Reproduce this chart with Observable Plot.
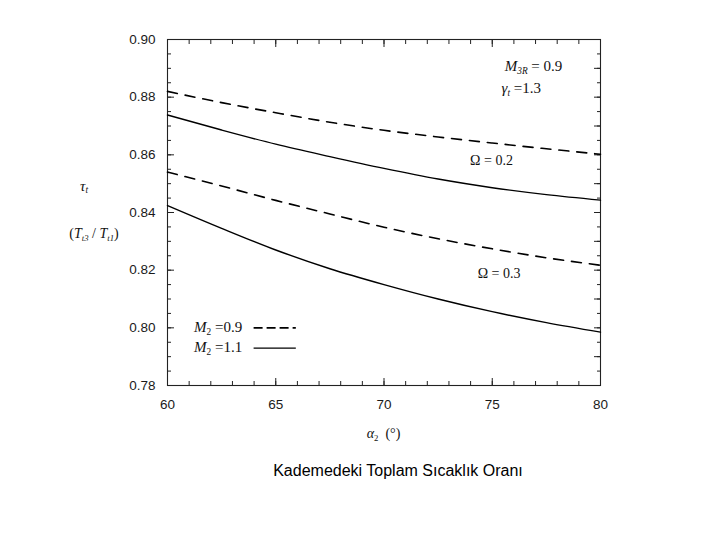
<!DOCTYPE html>
<html>
<head>
<meta charset="utf-8">
<script src="https://cdn.jsdelivr.net/npm/d3@7"></script>
<script src="https://cdn.jsdelivr.net/npm/@observablehq/plot@0.6"></script>
<style>
  html, body { margin: 0; padding: 0; background: #fff; }
  #chart svg { display: block; }
  #caption { width: 720px; box-sizing: border-box; padding-left: 76px; text-align: center;
             font-family: "Liberation Sans", Arial, sans-serif; font-size: 16px; color: #000;
             margin-top: 11px; line-height: 20px; }
</style>
</head>
<body>
<div id="chart"></div>
<div id="caption">Kademedeki Toplam Sıcaklık Oranı</div>
<script>
// ---- data ----
const alpha = [60, 62.5, 65, 67.5, 70, 72.5, 75, 77.5, 80];
const omega02_M09 = [0.8820, 0.8781, 0.8746, 0.8713, 0.8685, 0.8662, 0.8641, 0.8621, 0.8602];
const omega02_M11 = [0.8738, 0.8686, 0.8637, 0.8594, 0.8553, 0.8516, 0.8486, 0.8462, 0.8443];
const omega03_M09 = [0.8540, 0.8492, 0.8442, 0.8395, 0.8349, 0.8309, 0.8274, 0.8243, 0.8217];
const omega03_M11 = [0.8424, 0.8345, 0.8270, 0.8205, 0.8150, 0.8100, 0.8056, 0.8018, 0.7985];

const xTickLabels = [60, 65, 70, 75, 80];
const yTickLabels = [0.78, 0.80, 0.82, 0.84, 0.86, 0.88, 0.90];
const xMinor = d3.range(60, 80.001, 1);
const yMinor = d3.range(0, 25).map(i => +(0.78 + i * 0.005).toFixed(3));
const yMid = d3.range(0, 13).map(i => +(0.78 + i * 0.01).toFixed(2));

const series = [
  {omega: 0.2, M2: 0.9, values: omega02_M09},
  {omega: 0.2, M2: 1.1, values: omega02_M11},
  {omega: 0.3, M2: 0.9, values: omega03_M09},
  {omega: 0.3, M2: 1.1, values: omega03_M11}
];
const rows = series.flatMap(s => alpha.map((a, i) => ({alpha: a, tau: s.values[i], omega: s.omega, M2: s.M2})));

const tickFont = {fontFamily: "'Liberation Sans', Arial, sans-serif", fontSize: 13.5, fill: "#1a1a1a"};
const none = () => "";

const lineMarks = series.map(s => Plot.line(rows.filter(r => r.omega === s.omega && r.M2 === s.M2), {
  x: "alpha", y: "tau", curve: "monotone-x", stroke: "#000",
  strokeWidth: s.M2 === 0.9 ? 1.6 : 1.4,
  strokeDasharray: s.M2 === 0.9 ? "10,8" : null
}));

const plot = Plot.plot({
  width: 720, height: 450,
  marginLeft: 167, marginRight: 120, marginTop: 39, marginBottom: 65,
  x: {domain: [60, 80]},
  y: {domain: [0.78, 0.90]},
  style: {background: "#fff"},
  marks: [
    Plot.frame({stroke: "#222", strokeWidth: 1.1}),
    // bottom axis
    Plot.axisX({anchor: "bottom", ticks: xTickLabels, tickSize: -7, tickPadding: 21, tickFormat: d => String(d), ...tickFont, stroke: "#222", label: null}),
    Plot.axisX({anchor: "bottom", ticks: xMinor, tickSize: -4, tickFormat: none, stroke: "#222", label: null}),
    // top axis
    Plot.axisX({anchor: "top", ticks: xTickLabels, tickSize: -7, tickFormat: none, stroke: "#222", label: null}),
    Plot.axisX({anchor: "top", ticks: xMinor, tickSize: -4, tickFormat: none, stroke: "#222", label: null}),
    // left axis
    Plot.axisY({anchor: "left", ticks: yTickLabels, tickSize: -7, tickPadding: 19, tickFormat: d => d.toFixed(2), ...tickFont, stroke: "#222", label: null}),
    Plot.axisY({anchor: "left", ticks: yMinor, tickSize: -4, tickFormat: none, stroke: "#222", label: null}),
    // right axis
    Plot.axisY({anchor: "right", ticks: yMid, tickSize: -7, tickFormat: none, stroke: "#222", label: null}),
    Plot.axisY({anchor: "right", ticks: yMinor, tickSize: -4, tickFormat: none, stroke: "#222", label: null}),
    ...lineMarks
  ]
});
document.getElementById("chart").appendChild(plot);

// ---- annotations (serif math-style text) ----
const sx = plot.scale("x"), sy = plot.scale("y");
const svg = d3.select(plot);
const serif = "'Liberation Serif', 'DejaVu Serif', serif";
function label(px, py, parts, size = 13, anchor = "start") {
  const t = svg.append("text").attr("x", px).attr("y", py)
    .attr("font-family", serif).attr("font-size", size).attr("fill", "#111").attr("text-anchor", anchor);
  for (const p of parts) {
    const ts = t.append("tspan").text(p.t);
    if (p.i) ts.attr("font-style", "italic");
    if (p.sub) ts.attr("font-size", size * 0.62).attr("dy", p.sub);
    if (p.dy) ts.attr("dy", p.dy);
  }
  return t;
}
// parameter box (top right)
label(sx.apply(75.6), sy.apply(0.8888), [{t: "M", i: true}, {t: "3R", i: true, sub: 3}, {t: " = 0.9", dy: -3}], 15);
label(sx.apply(75.45), sy.apply(0.8813), [{t: "γ", i: true}, {t: "t", i: true, sub: 3}, {t: " =1.3", dy: -3}], 15);
// omega labels
label(sx.apply(74.0), sy.apply(0.8562), [{t: "Ω = 0.2"}], 14);
label(sx.apply(74.35), sy.apply(0.8170), [{t: "Ω = 0.3"}], 14);
// legend
label(sx.apply(61.25), sy.apply(0.7985), [{t: "M", i: true}, {t: "2", sub: 3}, {t: " =0.9", dy: -3}], 15);
label(sx.apply(61.25), sy.apply(0.7915), [{t: "M", i: true}, {t: "2", sub: 3}, {t: " =1.1", dy: -3}], 15);
svg.append("line").attr("x1", sx.apply(64.0)).attr("x2", sx.apply(65.95))
  .attr("y1", sy.apply(0.7998)).attr("y2", sy.apply(0.7998))
  .attr("stroke", "#000").attr("stroke-width", 1.6).attr("stroke-dasharray", "9,4");
svg.append("line").attr("x1", sx.apply(64.0)).attr("x2", sx.apply(65.95))
  .attr("y1", sy.apply(0.7928)).attr("y2", sy.apply(0.7928))
  .attr("stroke", "#000").attr("stroke-width", 1.2);
// y axis label
label(80, 191, [{t: "τ", i: true}, {t: "t", i: true, sub: 2}], 15);
label(94, 238, [{t: "("}, {t: "T", i: true}, {t: "t3", i: true, sub: 3}, {t: " / ", dy: -3}, {t: "T", i: true}, {t: "t1", i: true, sub: 3}, {t: ")", dy: -3}], 14, "middle");
// x axis label
label(sx.apply(70.0), 438, [{t: "α", i: true}, {t: "2", sub: 3}, {t: "  (°)", dy: -3}], 14, "middle");
</script>
</body>
</html>
